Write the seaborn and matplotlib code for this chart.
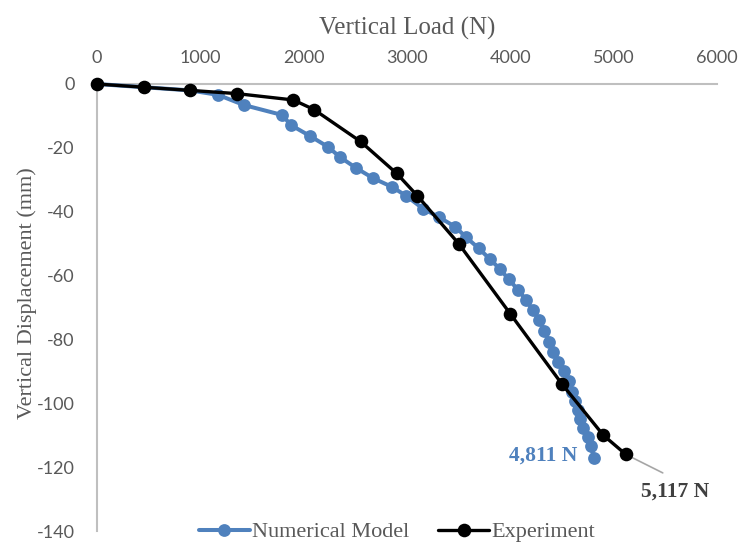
import matplotlib
matplotlib.use("Agg")
import matplotlib.pyplot as plt
from matplotlib.lines import Line2D
import seaborn as sns
import pandas as pd

# ---- data ----
num_load = [0, 450, 900, 1171, 1423, 1791, 1878, 2062, 2236, 2352, 2507, 2672, 2853,
            2991, 3153, 3314, 3466, 3572, 3695, 3804, 3901, 3985, 4073, 4150, 4218,
            4282, 4330, 4376, 4417, 4466, 4520, 4563, 4592, 4621, 4650, 4679, 4708,
            4747, 4776, 4811]
num_disp = [0, -1, -2, -3.4, -6.6, -9.7, -12.9, -16.3, -19.7, -22.9, -26.3, -29.5, -32.2,
            -35, -39, -41.8, -44.7, -48, -51.5, -54.9, -58, -61.2, -64.4, -67.5, -70.8,
            -74, -77.3, -80.8, -83.9, -87, -90, -93, -96.4, -99.2, -102, -104.9, -107.7,
            -110.5, -113.3, -117]
exp_load = [0, 450, 900, 1350, 1900, 2100, 2550, 2900, 3100, 3500, 4000, 4500, 4900, 5117]
exp_disp = [0, -1, -2, -3, -5, -8, -18, -28, -35, -50, -72, -94, -110, -116]
series_names = ["Numerical Model", "Experiment"]
x_ticks = [0, 1000, 2000, 3000, 4000, 5000, 6000]
y_ticks = [0, -20, -40, -60, -80, -100, -120, -140]
num_label = "4,811 N"
exp_label = "5,117 N"

BLUE = "#4f81bd"
BLACK = "#000000"
GREY = "#595959"

sns.set_style("white")
plt.rcParams["font.family"] = ["Lato", "DejaVu Sans"]
plt.rcParams["axes.unicode_minus"] = False

df_num = pd.DataFrame({"load": num_load, "disp": num_disp})
df_exp = pd.DataFrame({"load": exp_load, "disp": exp_disp})

fig = plt.figure(figsize=(7.41, 5.45), dpi=100)
ax = fig.add_axes([97 / 741, 1 - 531 / 545, 620 / 741, 447 / 545])

sns.lineplot(data=df_num, x="load", y="disp", sort=False, ax=ax, color=BLUE,
             linewidth=2.9, marker="o", markersize=9.2, markeredgewidth=0,
             clip_on=False, zorder=3)
sns.lineplot(data=df_exp, x="load", y="disp", sort=False, ax=ax, color=BLACK,
             linewidth=2.4, marker="o", markersize=9.8, markeredgewidth=0,
             clip_on=False, zorder=4)

ax.set_xlim(0, 6000)
ax.set_ylim(-140, 0)
ax.set_xticks(x_ticks)
ax.set_yticks(y_ticks)
ax.xaxis.tick_top()
ax.xaxis.set_label_position("top")
ax.tick_params(axis="both", length=0, labelsize=13, labelcolor=GREY)
ax.tick_params(axis="x", pad=13)
ax.tick_params(axis="y", pad=16)

for s in ["right", "bottom"]:
    ax.spines[s].set_visible(False)
for s in ["top", "left"]:
    ax.spines[s].set_color("#bfbfbf")
    ax.spines[s].set_linewidth(1.5)
    ax.spines[s].set_zorder(1)

ax.set_xlabel("Vertical Load (N)", family=["Liberation Serif"], fontsize=18,
              color=GREY, labelpad=11)
ax.set_ylabel("Vertical Displacement (mm)", family=["Liberation Serif"], fontsize=16,
              color=GREY)
ax.yaxis.set_label_coords(-0.097, 0.532)

# annotations
ax.text(num_load[-1] - 160, num_disp[-1] + 0.5, num_label, ha="right", va="center",
        family=["Liberation Serif"], fontweight="bold", fontsize=15.5, color=BLUE)
ax.plot([exp_load[-1], 5475], [exp_disp[-1], -121.8], color="#a6a6a6", lw=1.2,
        clip_on=False, zorder=2)
ax.text(5594, -127.8, exp_label, ha="center", va="center", family=["Liberation Serif"],
        fontweight="bold", fontsize=15.5, color="#404040", clip_on=False)

handles = [
    Line2D([0], [0], color=BLUE, lw=2.9, marker="o", markersize=9.2, markeredgewidth=0),
    Line2D([0], [0], color=BLACK, lw=2.4, marker="o", markersize=9.8, markeredgewidth=0),
]
if ax.get_legend() is not None:
    ax.get_legend().remove()
leg = fig.legend(handles, series_names, loc="center", bbox_to_anchor=(397 / 741, 1 - 532 / 545),
                 ncol=2, frameon=False, handlelength=2.3, handletextpad=0.1,
                 columnspacing=1.3, prop={"family": "Liberation Serif", "size": 16})
for t in leg.get_texts():
    t.set_color(GREY)

fig.savefig("out.png", dpi=100)
